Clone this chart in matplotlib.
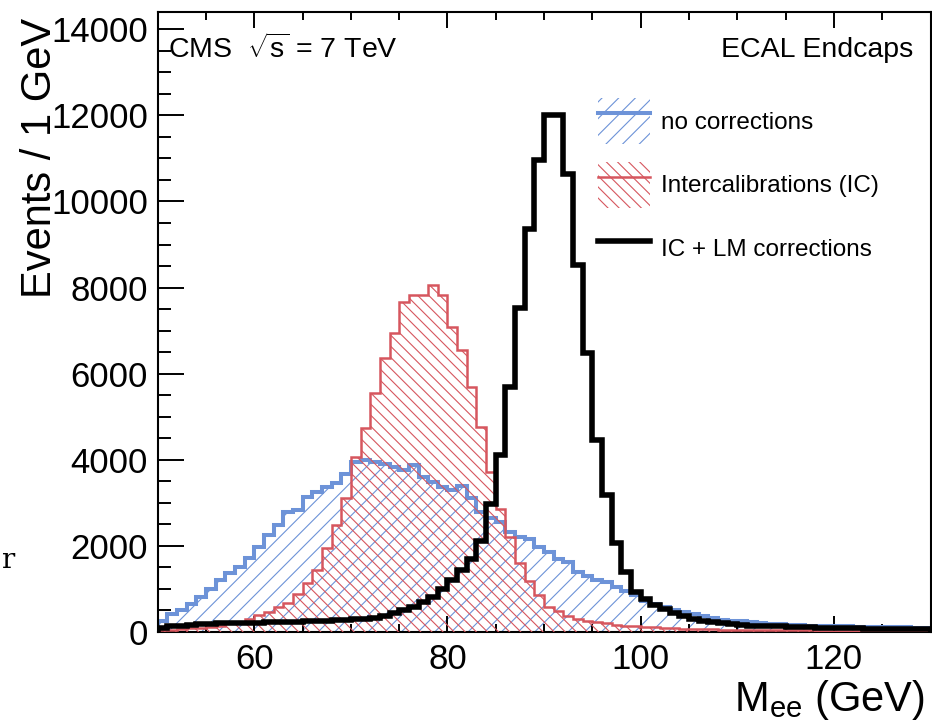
import numpy as np
import matplotlib
matplotlib.use("Agg")
import matplotlib.pyplot as plt
from matplotlib.patches import Patch
from matplotlib.lines import Line2D
from matplotlib.legend_handler import HandlerTuple

plt.rcParams['font.family'] = ['Liberation Sans', 'DejaVu Sans']
plt.rcParams['mathtext.fontset'] = 'custom'
plt.rcParams['mathtext.rm'] = 'Liberation Sans'
plt.rcParams['mathtext.it'] = 'Liberation Sans'
plt.rcParams['mathtext.default'] = 'regular'
plt.rcParams['hatch.linewidth'] = 0.8

# ---- data: 1 GeV bins from 50 to 130 GeV ----
mass_edges = np.arange(50, 131, 1)

no_corrections = [
    250, 420, 520, 640, 820, 1010, 1200, 1360, 1510, 1710,
    1980, 2250, 2480, 2790, 2830, 3140, 3250, 3370, 3450, 3680,
    3950, 3990, 3950, 3910, 3840, 3760, 3880, 3600, 3490, 3370,
    3300, 3380, 3120, 2790, 2650, 2550, 2330, 2210, 2170, 1980,
    1860, 1690, 1620, 1400, 1300, 1200, 1150, 1050, 950, 850,
    720, 640, 580, 510, 460, 410, 370, 320, 290, 265,
    245, 230, 210, 195, 180, 165, 158, 150, 145, 140,
    135, 130, 125, 120, 118, 115, 110, 105, 100, 95,
]

intercalibrations = [
    40, 55, 70, 85, 100, 120, 150, 200, 235, 300,
    390, 467, 583, 662, 894, 1127, 1436, 1947, 2481, 3108,
    4068, 4727, 5540, 6353, 6941, 7669, 7824, 7824, 8056, 7824,
    7088, 6546, 5694, 4765, 3720, 2868, 2200, 1595, 1180, 850,
    580, 480, 380, 310, 260, 230, 200, 170, 150, 130,
    115, 105, 95, 88, 80, 74, 68, 63, 58, 55,
    52, 49, 46, 44, 42, 40, 38, 36, 34, 32,
    30, 28, 26, 24, 22, 20, 19, 18, 16, 15,
]

ic_lm_corrections = [
    90, 130, 140, 160, 175, 190, 200, 205, 210, 215,
    220, 225, 230, 235, 240, 245, 250, 260, 270, 280,
    295, 310, 330, 380, 430, 520, 590, 700, 816, 1010,
    1200, 1436, 1707, 2110, 2965, 4100, 5686, 7522, 9357, 10960,
    12000, 12000, 10635, 8521, 6477, 4456, 3178, 2063, 1389, 930,
    760, 630, 540, 450, 370, 300, 255, 225, 200, 180,
    165, 150, 140, 135, 128, 118, 112, 106, 100, 95,
    90, 86, 83, 80, 78, 76, 74, 72, 70, 68,
]

x_ticks = [60, 80, 100, 120]
y_ticks = [0, 2000, 4000, 6000, 8000, 10000, 12000, 14000]

blue = '#6d93d8'
red = '#d6565e'
blue_hatch = '//'
red_hatch = '\\\\\\'

W, H = 932, 724
DPI = 100
fig = plt.figure(figsize=(W / DPI, H / DPI), dpi=DPI)
ax = fig.add_axes([157.7 / W, 1 - 632 / H, (930.5 - 157.7) / W, (632 - 12) / H])

# blue: hatched fill + outline
ax.stairs(no_corrections, mass_edges, fill=True, facecolor='none',
          edgecolor=blue, hatch=blue_hatch, linewidth=0, zorder=1)
ax.stairs(no_corrections, mass_edges, color=blue, linewidth=2.9, zorder=2)
# red
ax.stairs(intercalibrations, mass_edges, fill=True, facecolor='none',
          edgecolor=red, hatch=red_hatch, linewidth=0, zorder=3)
ax.stairs(intercalibrations, mass_edges, color=red, linewidth=1.8, zorder=4)
# black
ax.stairs(ic_lm_corrections, mass_edges, color='black', linewidth=4.0, zorder=5)

ax.set_xlim(50, 130)
ax.set_ylim(0, 14400)
ax.set_xticks(x_ticks)
ax.set_xticks(np.arange(50, 131, 5), minor=True)
ax.set_yticks(y_ticks)
ax.set_yticks(np.arange(0, 14401, 500), minor=True)
ax.set_xticklabels([str(v) for v in x_ticks])
ax.set_yticklabels([str(v) for v in y_ticks])

for s in ax.spines.values():
    s.set_linewidth(1.5)
ax.tick_params(axis='x', which='both', direction='in', top=True, bottom=True,
               labelsize=25, pad=8, width=1.4)
ax.tick_params(axis='x', which='major', length=11.5)
ax.tick_params(axis='x', which='minor', length=5.8)
ax.tick_params(axis='y', which='both', direction='in', left=True, right=False,
               labelsize=25, pad=7, width=1.4)
ax.tick_params(axis='y', which='major', length=18.7)
ax.tick_params(axis='y', which='minor', length=9.4)

# texts
fig.text(168 / W, 1 - 58 / H, r'CMS  $\sqrt{s}$ = 7 TeV', fontsize=20.5,
         ha='left', va='baseline')
fig.text(913 / W, 1 - 57 / H, 'ECAL Endcaps', fontsize=20.5,
         ha='right', va='baseline')
fig.text(40 / W, 1 - 18 / H, 'Events / 1 GeV', fontsize=30, rotation=90,
         ha='center', va='top')
fig.text(925 / W, 1 - 700 / H, r'M$_{ee}$ (GeV)', fontsize=30,
         ha='right', va='center')
fig.text(1 / W, 1 - 560 / H, 'r', fontsize=20, family='DejaVu Serif',
         ha='left', va='center')

# legend
h_blue = (Patch(facecolor='none', edgecolor=blue, hatch=blue_hatch, linewidth=0),
          Line2D([], [], color=blue, linewidth=2.9))
h_red = (Patch(facecolor='none', edgecolor=red, hatch=red_hatch, linewidth=0),
         Line2D([], [], color=red, linewidth=1.8))
h_black = Line2D([], [], color='black', linewidth=4.0)
leg = ax.legend([h_blue, h_red, h_black],
                ['no corrections', 'Intercalibrations (IC)', 'IC + LM corrections'],
                handler_map={tuple: HandlerTuple(ndivide=1, pad=0)},
                loc='upper left', bbox_to_anchor=(598 / W, 1 - 98 / H),
                bbox_transform=fig.transFigure, frameon=False, fontsize=17.5,
                handlelength=2.14, handleheight=2.55, labelspacing=0.72,
                handletextpad=0.45, borderpad=0, borderaxespad=0)

fig.savefig('out.png', dpi=DPI)
